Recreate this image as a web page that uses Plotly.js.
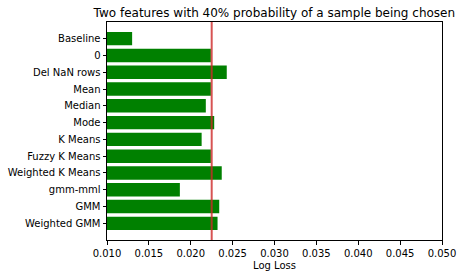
<!DOCTYPE html>
<html><head><meta charset="utf-8">
<script src="https://cdn.plot.ly/plotly-3.0.1.min.js"></script>
<style>body{margin:0;background:#fff}#chart{width:465px;height:278px}</style>
</head><body><div id="chart"></div>
<script>
var methods = ["Baseline","0","Del NaN rows","Mean","Median","Mode","K Means","Fuzzy K Means","Weighted K Means","gmm-mml","GMM","Weighted GMM"];
var logLoss = [0.0130,0.0224,0.0243,0.0224,0.0218,0.0228,0.0213,0.0224,0.0237,0.0187,0.0234,0.0232];
var refLine = 0.0225;
var xTicks = [0.010,0.015,0.020,0.025,0.030,0.035,0.040,0.045,0.050];
var xTickText = ["0.010","0.015","0.020","0.025","0.030","0.035","0.040","0.045","0.050"];

var font = {family:"DejaVu Sans", size:10, color:"#000"};
var data = [{
  type:"bar", orientation:"h", y:methods.map(function(m,i){return i;}), x:logLoss,
  base:0, marker:{color:"#008000"}, width:0.8, hoverinfo:"none"
}];
var layout = {
  width:465, height:278,
  margin:{l:107, r:23, t:22, b:38},
  paper_bgcolor:"#fff", plot_bgcolor:"#fff",
  showlegend:false,
  font:font,
  title:{text:"Two features with 40% probability of a sample being chosen", font:{family:"DejaVu Sans", size:12, color:"#000"}, x:0.59, xanchor:"center", y:0.955, yanchor:"middle"},
  xaxis:{range:[0.010,0.050], tickvals:xTicks, ticktext:xTickText, ticks:"outside", ticklen:3.5, tickcolor:"#000",
    showgrid:false, zeroline:false, showline:true, linecolor:"#000", linewidth:1, mirror:true,
    title:{text:"Log Loss", font:{family:"DejaVu Sans", size:10, color:"#000"}, standoff:4}, tickfont:font},
  yaxis:{range:[11.99,-0.99], tickvals:methods.map(function(m,i){return i;}), ticktext:methods, ticks:"outside", ticklen:3.5, tickcolor:"#000",
    showgrid:false, zeroline:false, showline:true, linecolor:"#000", linewidth:1, mirror:true, tickfont:font},
  shapes:[{type:"line", xref:"x", yref:"paper", x0:refLine, x1:refLine, y0:0, y1:1, line:{color:"rgba(205,40,40,0.8)", width:2}}]
};
Plotly.newPlot("chart", data, layout, {staticPlot:true, displayModeBar:false});
</script></body></html>
